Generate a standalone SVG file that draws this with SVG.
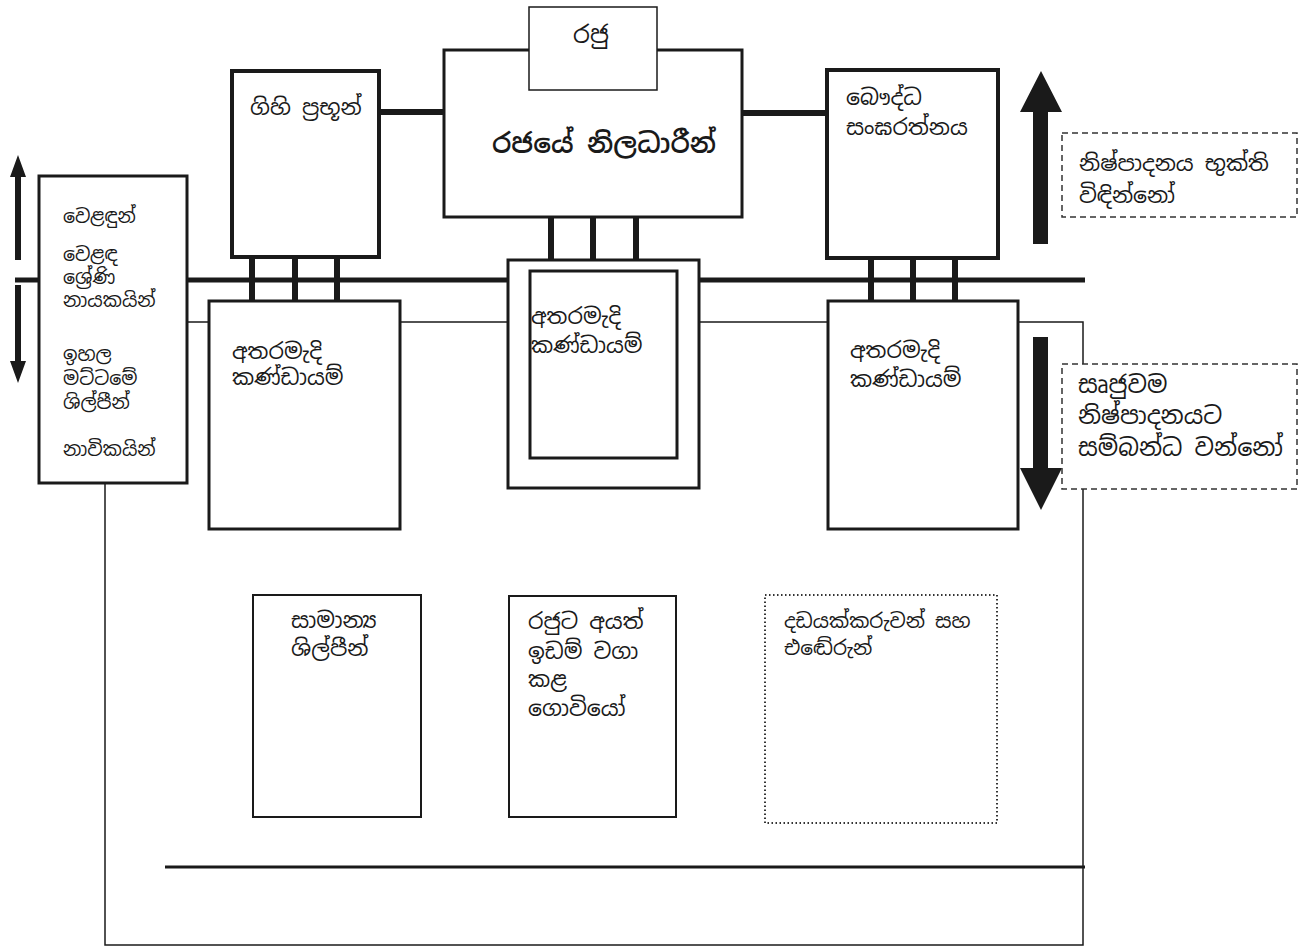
<svg xmlns="http://www.w3.org/2000/svg" width="1302" height="951" viewBox="0 0 1302 951">
<style>
text{font-family:"Noto Sans Sinhala","Iskoola Pota","Noto Sans","DejaVu Sans",sans-serif;fill:#1a1a1a;font-size:22px}
text.sm{font-size:19px}
text.md{font-size:22px}
text.lg{font-size:24px}
text.title{font-size:27px;font-weight:600}
text.king{font-size:24px}
text.hunt{font-size:20px}
.box{fill:#fff;stroke:#1a1a1a}
.thick{stroke-width:4}
.med{stroke-width:3}
.thin{stroke-width:2}
.conn{stroke:#1a1a1a;fill:none}
.dash{fill:#fff;stroke:#333;stroke-width:1.5;stroke-dasharray:6 4}
.dot{fill:#fff;stroke:#333;stroke-width:2;stroke-dasharray:1.5 2.5}
.arrow{fill:#1a1a1a}
</style>
<rect width="1302" height="951" fill="#fff"/>
<g id="connectors">
<rect x="105" y="322" width="978" height="623" class="conn" stroke-width="1.5"/>
<line x1="15" y1="280" x2="1085" y2="280" class="conn" stroke-width="5"/>
<line x1="165" y1="867" x2="1085" y2="867" class="conn" stroke-width="3"/>
<line x1="380" y1="112" x2="445" y2="112" class="conn" stroke-width="6"/>
<line x1="743" y1="113" x2="826" y2="113" class="conn" stroke-width="6"/>
<g stroke="#1a1a1a" stroke-width="6">
<line x1="252" y1="258" x2="252" y2="301"/>
<line x1="295" y1="258" x2="295" y2="301"/>
<line x1="337" y1="258" x2="337" y2="301"/>
<line x1="551" y1="217" x2="551" y2="260"/>
<line x1="593" y1="217" x2="593" y2="260"/>
<line x1="636" y1="217" x2="636" y2="260"/>
<line x1="871" y1="259" x2="871" y2="301"/>
<line x1="913" y1="259" x2="913" y2="301"/>
<line x1="955" y1="259" x2="955" y2="301"/>
</g>
<path class="arrow" d="M18 155 L26 177 L21 177 L21 260 L15 260 L15 177 L10 177 Z"/>
<path class="arrow" d="M18 383 L26 361 L21 361 L21 285 L15 285 L15 361 L10 361 Z"/>
<path class="arrow" d="M1041 71 L1062 112 L1048 112 L1048 244 L1033 244 L1033 112 L1020 112 Z"/>
<path class="arrow" d="M1041 510 L1062 468 L1048 468 L1048 337 L1033 337 L1033 468 L1020 468 Z"/>
</g>
<g id="merchants">
<rect x="39" y="176" width="148" height="307" class="box med"/>
<text x="63" y="223" class="sm">වෙළඳුන්</text>
<text x="63" y="261" class="sm">වෙළඳ</text>
<text x="63" y="284" class="sm">ශ්‍රේණි</text>
<text x="63" y="307" class="sm">නායකයින්</text>
<text x="63" y="361" class="sm">ඉහල</text>
<text x="63" y="385" class="sm">මට්ටමේ</text>
<text x="63" y="409" class="sm">ශිල්පීන්</text>
<text x="63" y="456" class="sm">නාවිකයින්</text>
</g>
<g id="lay-nobles">
<rect x="232" y="71" width="147" height="186" class="box thick"/>
<text x="250" y="115">ගිහි ප්‍රභූන්</text>
</g>
<g id="officials">
<rect x="444" y="50" width="298" height="167" class="box med"/>
<text x="604" y="153" text-anchor="middle" class="title">රජයේ නිලධාරීන්</text>
</g>
<g id="king">
<rect x="529" y="7" width="128" height="83" class="box" stroke-width="1.5"/>
<text x="591" y="43" text-anchor="middle" class="king">රජු</text>
</g>
<g id="sangha">
<rect x="827" y="70" width="171" height="188" class="box thick"/>
<text x="846" y="105">බෞද්ධ</text>
<text x="846" y="135">සංඝරත්නය</text>
</g>
<g id="intermediate-left">
<rect x="209" y="301" width="191" height="228" class="box med"/>
<text x="232" y="359">අතරමැදි</text>
<text x="232" y="385">කණ්ඩායම්</text>
</g>
<g id="intermediate-center">
<rect x="508" y="260" width="191" height="228" class="box med"/>
<rect x="530" y="271" width="147" height="187" class="box med"/>
<text x="531" y="324">අතරමැදි</text>
<text x="531" y="353">කණ්ඩායම්</text>
</g>
<g id="intermediate-right">
<rect x="828" y="301" width="190" height="228" class="box med"/>
<text x="850" y="358">අතරමැදි</text>
<text x="850" y="387">කණ්ඩායම්</text>
</g>
<g id="enjoyers">
<rect x="1062" y="133" width="235" height="84" class="dash"/>
<text x="1079" y="171" class="md">නිෂ්පාදනය භුක්ති</text>
<text x="1079" y="203" class="md">විඳින්නෝ</text>
</g>
<g id="producers">
<rect x="1062" y="364" width="235" height="125" class="dash"/>
<text x="1078" y="393" class="lg">සෘජුවම</text>
<text x="1078" y="424" class="lg">නිෂ්පාදනයට</text>
<text x="1078" y="456" class="lg">සම්බන්ධ වන්නෝ</text>
</g>
<g id="artisans">
<rect x="253" y="595" width="168" height="222" class="box thin"/>
<text x="291" y="628">සාමාන්‍ය</text>
<text x="291" y="656">ශිල්පීන්</text>
</g>
<g id="farmers">
<rect x="509" y="596" width="167" height="221" class="box thin"/>
<text x="528" y="629">රජුට අයත්</text>
<text x="528" y="659">ඉඩම් වගා</text>
<text x="528" y="687">කළ</text>
<text x="528" y="716">ගොවියෝ</text>
</g>
<g id="hunters">
<rect x="765" y="595" width="232" height="228" class="dot"/>
<text x="784" y="628" class="hunt">දඩයක්කරුවන් සහ</text>
<text x="784" y="655" class="hunt">එඬේරුන්</text>
</g>
</svg>
